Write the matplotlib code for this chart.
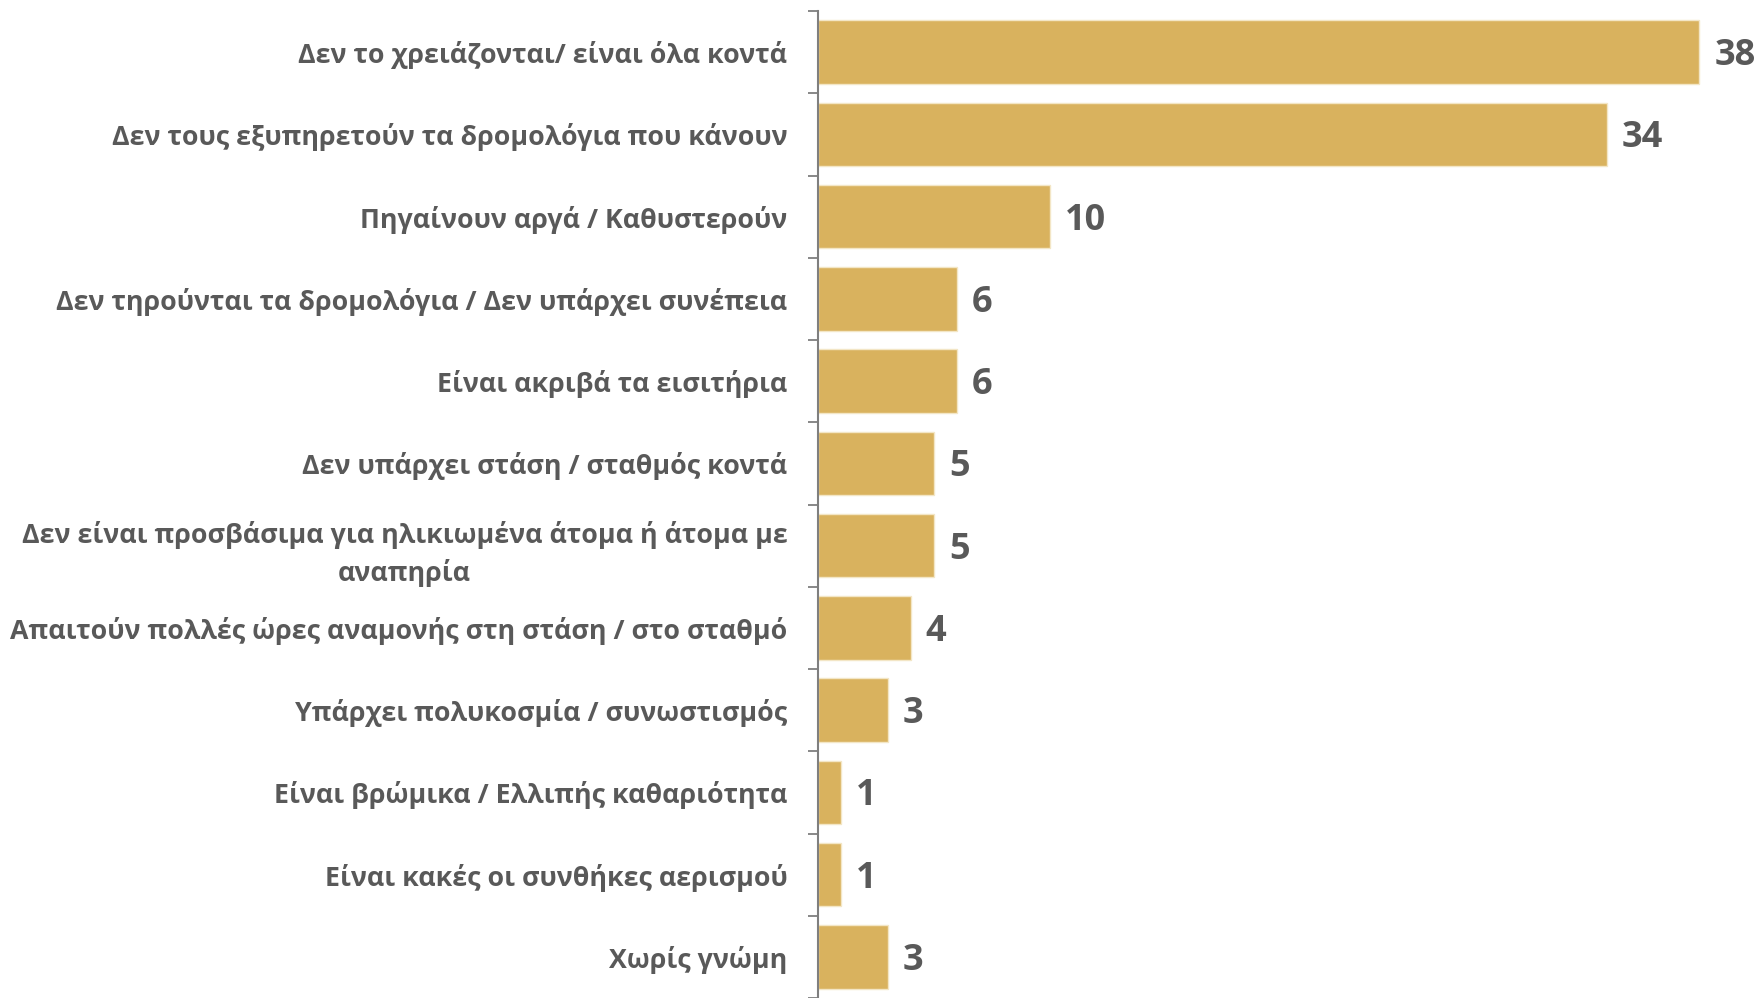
import matplotlib

matplotlib.use("Agg")

import matplotlib.pyplot as plt  # noqa: E402
import numpy as np  # noqa: E402

categories = [
    "Δεν το χρειάζονται/ είναι όλα κοντά",
    "Δεν τους εξυπηρετούν τα δρομολόγια που κάνουν",
    "Πηγαίνουν αργά / Καθυστερούν",
    "Δεν τηρούνται τα δρομολόγια / Δεν υπάρχει συνέπεια",
    "Είναι ακριβά τα εισιτήρια",
    "Δεν υπάρχει στάση / σταθμός κοντά",
    "Δεν είναι προσβάσιμα για ηλικιωμένα άτομα ή άτομα με\nαναπηρία",
    "Απαιτούν πολλές ώρες αναμονής στη στάση / στο σταθμό",
    "Υπάρχει πολυκοσμία / συνωστισμός",
    "Είναι βρώμικα / Ελλιπής καθαριότητα",
    "Είναι κακές οι συνθήκες αερισμού",
    "Χωρίς γνώμη",
]
values = [38, 34, 10, 6, 6, 5, 5, 4, 3, 1, 1, 3]

BAR_COLOR = "#D9B25E"
TEXT_COLOR = "#595959"
AXIS_COLOR = "#7F7F7F"

plt.rcParams["font.family"] = ["Open Sans", "DejaVu Sans"]

fig = plt.figure(figsize=(17.62, 9.98), dpi=100)
ax = fig.add_axes([818 / 1762, 0.0, 1 - 818 / 1762, 1 - 11 / 998])

pos = np.arange(len(categories))
ax.barh(pos, values, height=0.77, color=BAR_COLOR, edgecolor="#F3E6C6", linewidth=1)

ax.set_xlim(0, 40.7)
ax.set_ylim(len(categories) - 0.5, -0.5)

# category labels on the centres, tick marks on the boundaries
ax.set_yticks(pos)
ax.set_yticklabels(categories, fontsize=19.25, fontweight="bold",
                   color=TEXT_COLOR, multialignment="center", linespacing=1.45)
ax.tick_params(axis="y", which="major", length=0, pad=22)
ax.set_yticks(np.arange(-0.5, len(categories), 1.0), minor=True)
ax.tick_params(axis="y", which="minor", length=7, width=1.3, color=AXIS_COLOR)

ax.set_xticks([])
for side in ["top", "right", "bottom"]:
    ax.spines[side].set_visible(False)
ax.spines["left"].set_color(AXIS_COLOR)
ax.spines["left"].set_linewidth(1.5)

for y, v in zip(pos, values):
    ax.text(v + 0.65, y + 0.05, str(v), va="center", ha="left",
            fontsize=26, fontweight="bold", color=TEXT_COLOR)

fig.savefig("out.png", dpi=100)
